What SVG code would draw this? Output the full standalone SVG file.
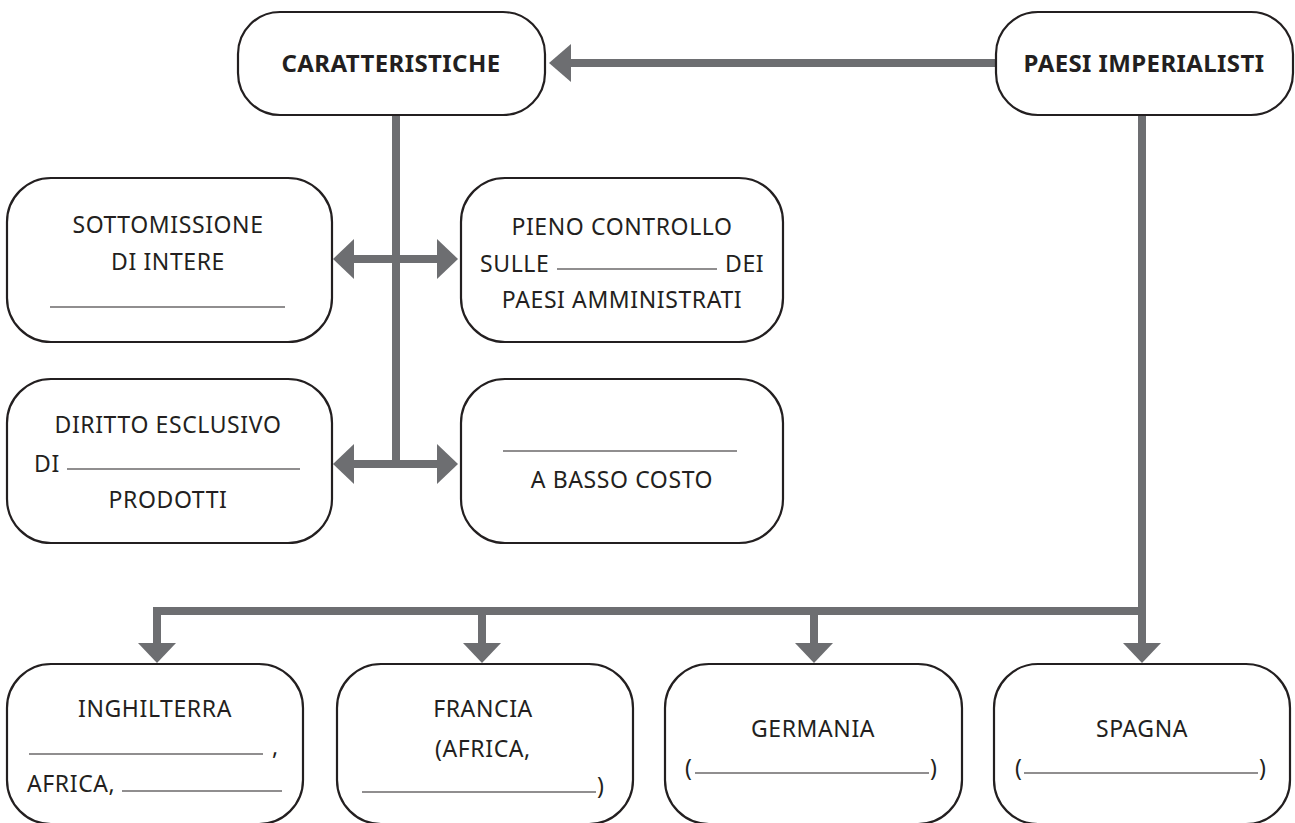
<svg xmlns="http://www.w3.org/2000/svg" width="1295" height="823" viewBox="0 0 1295 823">
<style>
.box{fill:#fff;stroke:#231f20;stroke-width:2.2}
.t{font-family:"Noto Sans","Open Sans",sans-serif;font-size:23px;letter-spacing:0.6px;fill:#231f20;text-anchor:middle}
.tl{font-family:"Noto Sans","Open Sans",sans-serif;font-size:23px;letter-spacing:0.6px;fill:#231f20}
.b{font-family:"Noto Sans","Open Sans",sans-serif;font-size:24px;letter-spacing:0.4px;font-weight:bold;fill:#231f20;text-anchor:middle}
.blank{stroke:#231f20;stroke-width:1.2}
.c{stroke:#6d6e71;stroke-width:8;fill:none}
.h{fill:#6d6e71}
</style>
<rect width="1295" height="823" fill="#fff"/>
<g id="connectors">
<path class="c" d="M996 63H566"/>
<polygon class="h" points="549,63 571,44 571,82"/>
<path class="c" d="M396 115V464"/>
<path class="c" d="M350 259H441"/>
<polygon class="h" points="333,259 354,239 354,279"/>
<polygon class="h" points="458,259 437,239 437,279"/>
<path class="c" d="M350 464H441"/>
<polygon class="h" points="333,464 354,444 354,484"/>
<polygon class="h" points="458,464 437,444 437,484"/>
<path class="c" d="M1142 115V648"/>
<path class="c" d="M157 648V611H1142"/>
<path class="c" d="M482 611V648"/>
<path class="c" d="M814 611V648"/>
<polygon class="h" points="157,663 138,643 176,643"/>
<polygon class="h" points="482,663 463,643 501,643"/>
<polygon class="h" points="814,663 795,643 833,643"/>
<polygon class="h" points="1142,663 1123,643 1161,643"/>
</g>
<g id="caratteristiche">
<rect class="box" x="238" y="12" width="307" height="103" rx="42"/>
<text class="b" x="391" y="72">CARATTERISTICHE</text>
</g>
<g id="paesi-imperialisti">
<rect class="box" x="996" y="12" width="297" height="103" rx="42"/>
<text class="b" x="1144" y="72">PAESI IMPERIALISTI</text>
</g>
<g id="sottomissione">
<rect class="box" x="7" y="178" width="325" height="164" rx="44"/>
<text class="t" x="168" y="233">SOTTOMISSIONE</text>
<text class="t" x="168" y="270">DI INTERE</text>
<line class="blank" x1="50" y1="307" x2="285" y2="307"/>
</g>
<g id="pieno-controllo">
<rect class="box" x="461" y="178" width="322" height="164" rx="44"/>
<text class="t" x="622" y="235">PIENO CONTROLLO</text>
<text class="tl" x="480" y="272" letter-spacing="0.2">SULLE</text>
<line class="blank" x1="557" y1="269" x2="717" y2="269"/>
<text class="tl" x="725" y="272">DEI</text>
<text class="t" x="622" y="308">PAESI AMMINISTRATI</text>
</g>
<g id="diritto-esclusivo">
<rect class="box" x="7" y="379" width="325" height="164" rx="44"/>
<text class="t" x="168" y="433">DIRITTO ESCLUSIVO</text>
<text class="tl" x="34" y="472">DI</text>
<line class="blank" x1="67" y1="469" x2="300" y2="469"/>
<text class="t" x="168" y="508">PRODOTTI</text>
</g>
<g id="basso-costo">
<rect class="box" x="461" y="379" width="322" height="164" rx="44"/>
<line class="blank" x1="503" y1="451" x2="737" y2="451"/>
<text class="t" x="622" y="488">A BASSO COSTO</text>
</g>
<g id="inghilterra">
<rect class="box" x="7" y="664" width="296" height="160" rx="44"/>
<text class="t" x="155" y="717">INGHILTERRA</text>
<line class="blank" x1="29" y1="754" x2="263" y2="754"/>
<text class="tl" x="272" y="755">,</text>
<text class="tl" x="27" y="792">AFRICA,</text>
<line class="blank" x1="122" y1="791" x2="282" y2="791"/>
</g>
<g id="francia">
<rect class="box" x="337" y="664" width="296" height="160" rx="44"/>
<text class="t" x="483" y="717">FRANCIA</text>
<text class="tl" x="435" y="757">(AFRICA,</text>
<line class="blank" x1="362" y1="792" x2="596" y2="792"/>
<text class="tl" x="597" y="794">)</text>
</g>
<g id="germania">
<rect class="box" x="665" y="664" width="297" height="160" rx="44"/>
<text class="t" x="813" y="737">GERMANIA</text>
<text class="tl" x="685" y="776">(</text>
<line class="blank" x1="695" y1="773" x2="929" y2="773"/>
<text class="tl" x="930" y="776">)</text>
</g>
<g id="spagna">
<rect class="box" x="994" y="664" width="296" height="160" rx="44"/>
<text class="t" x="1142" y="737">SPAGNA</text>
<text class="tl" x="1015" y="776">(</text>
<line class="blank" x1="1024" y1="773" x2="1258" y2="773"/>
<text class="tl" x="1259" y="776">)</text>
</g>
</svg>
